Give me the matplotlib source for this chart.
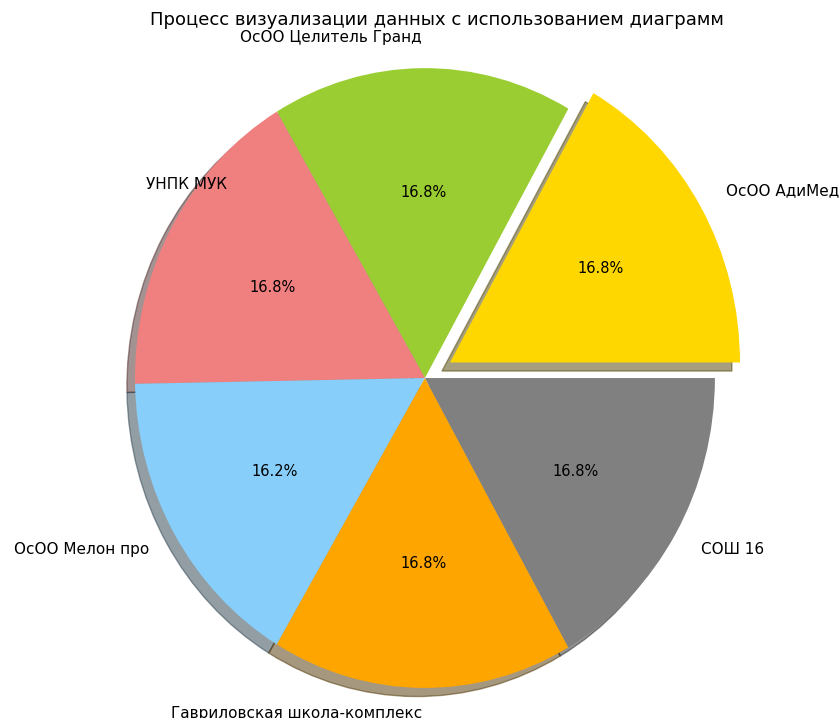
import matplotlib
matplotlib.use("Agg")
from matplotlib import pyplot as plt

# Данные
labels = ["ОсОО АдиМед", "ОсОО Целитель Гранд", "УНПК МУК", "ОсОО Мелон про",
          "Гавриловская школа-комплекс", "СОШ 16"]
sizes = [28, 28, 28, 27, 28, 28]
colors = ["gold", "yellowgreen", "lightcoral", "lightskyblue", "orange", "gray"]
explode = [0.1, 0, 0, 0, 0, 0]

fig = plt.figure(figsize=(8.39, 7.18), dpi=100)
ax = fig.add_axes([0.0745, -0.066, 0.864, 1.079])

wedges, texts, autotexts = ax.pie(sizes, explode=explode, labels=labels, colors=colors,
                                  autopct='%1.1f%%', shadow=True, startangle=0,
                                  textprops={'fontsize': 11})
for t in autotexts:
    t.set_fontsize(10.5)
ax.set_aspect('auto')
ax.set_xlim(-1.25, 1.25)
ax.set_ylim(-1.25, 1.25)

# подписи немного сдвинуты, как на исходной картинке
x, y = texts[2].get_position()
texts[2].set_position((x, y + 0.09))
texts[2].set_horizontalalignment('left')
x, y = texts[4].get_position()
texts[4].set_position((x, y + 0.018))

fig.text(0.521, 0.972, "Процесс визуализации данных с использованием диаграмм",
         ha='center', va='center', fontsize=13)

plt.savefig("out.png", dpi=100)
